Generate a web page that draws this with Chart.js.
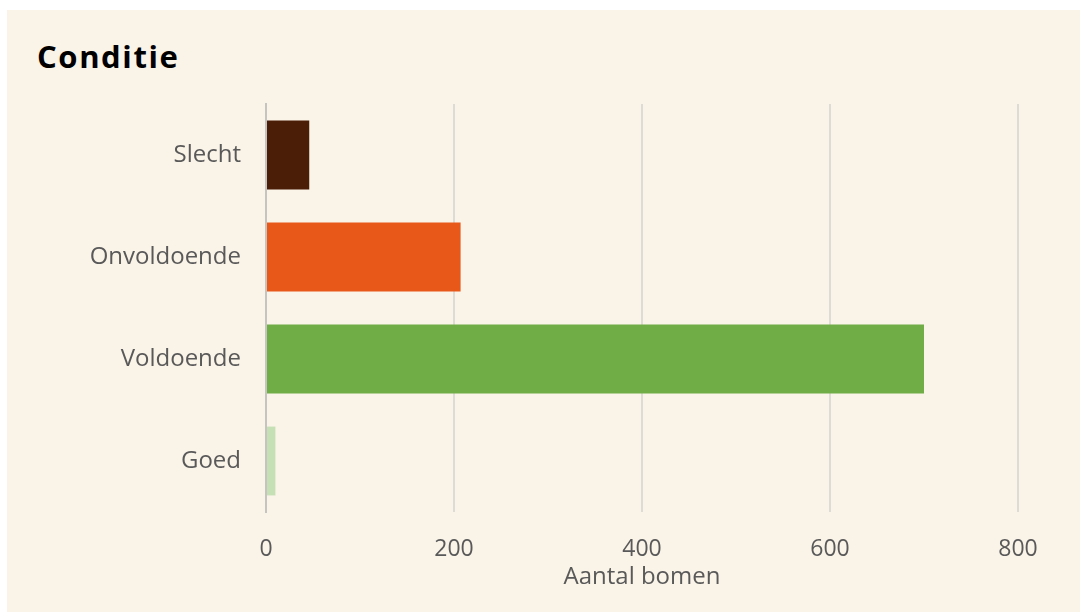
<!DOCTYPE html>
<html>
<head>
<meta charset="utf-8">
<script src="https://cdn.jsdelivr.net/npm/chart.js@4"></script>
<style>
  body { margin: 0; background: #ffffff; }
  .panel { position: absolute; left: 7px; top: 10px; width: 1073px; height: 602px; background: #faf3e8; }
  .title { position: absolute; left: 30px; top: 31px; margin: 0; font: bold 31px "Open Sans"; line-height: 1; letter-spacing: 1.6px; color: #000; }
  canvas { position: absolute; left: 0; top: 0; }
</style>
</head>
<body>
<div class="panel">
  <h1 class="title">Conditie</h1>
  <canvas id="myChart" width="1073" height="602"></canvas>
</div>
<script>
var categories = ["Slecht", "Onvoldoende", "Voldoende", "Goed"];
var values = [46, 207, 700, 10];
var barColors = ["#4b1f07", "#e85819", "#70ad47", "#c5e0b4"];
var xTicks = [0, 200, 400, 600, 800];
var xTitle = "Aantal bomen";

new Chart("myChart", {
  type: "bar",
  data: {
    labels: categories,
    datasets: [{
      data: values,
      backgroundColor: barColors,
      categoryPercentage: 1,
      barPercentage: 0.675
    }]
  },
  options: {
    indexAxis: "y",
    responsive: false,
    animation: false,
    layout: { padding: { top: 94, right: 62, bottom: 0, left: 0 } },
    plugins: { legend: { display: false }, tooltip: { enabled: false } },
    scales: {
      x: {
        min: 0,
        max: 800,
        afterBuildTicks: function (s) { s.ticks = xTicks.map(function (v) { return { value: v }; }); },
        afterFit: function (s) { s.height = 100; },
        grid: { color: "#dedbd6", lineWidth: 2, drawTicks: false },
        border: { display: false },
        ticks: { padding: 24, color: "#595959", font: { family: "Open Sans", size: 23 } },
        title: { display: true, text: xTitle, color: "#595959", font: { family: "Open Sans", size: 24 }, padding: { top: 0, bottom: 20 } }
      },
      y: {
        afterFit: function (s) { s.width = 259; },
        grid: { display: false, drawTicks: false },
        border: { display: true, color: "#c6c4c0", width: 2 },
        ticks: { padding: 25, color: "#595959", font: { family: "Open Sans", size: 24 } }
      }
    }
  }
});
</script>
</body>
</html>
